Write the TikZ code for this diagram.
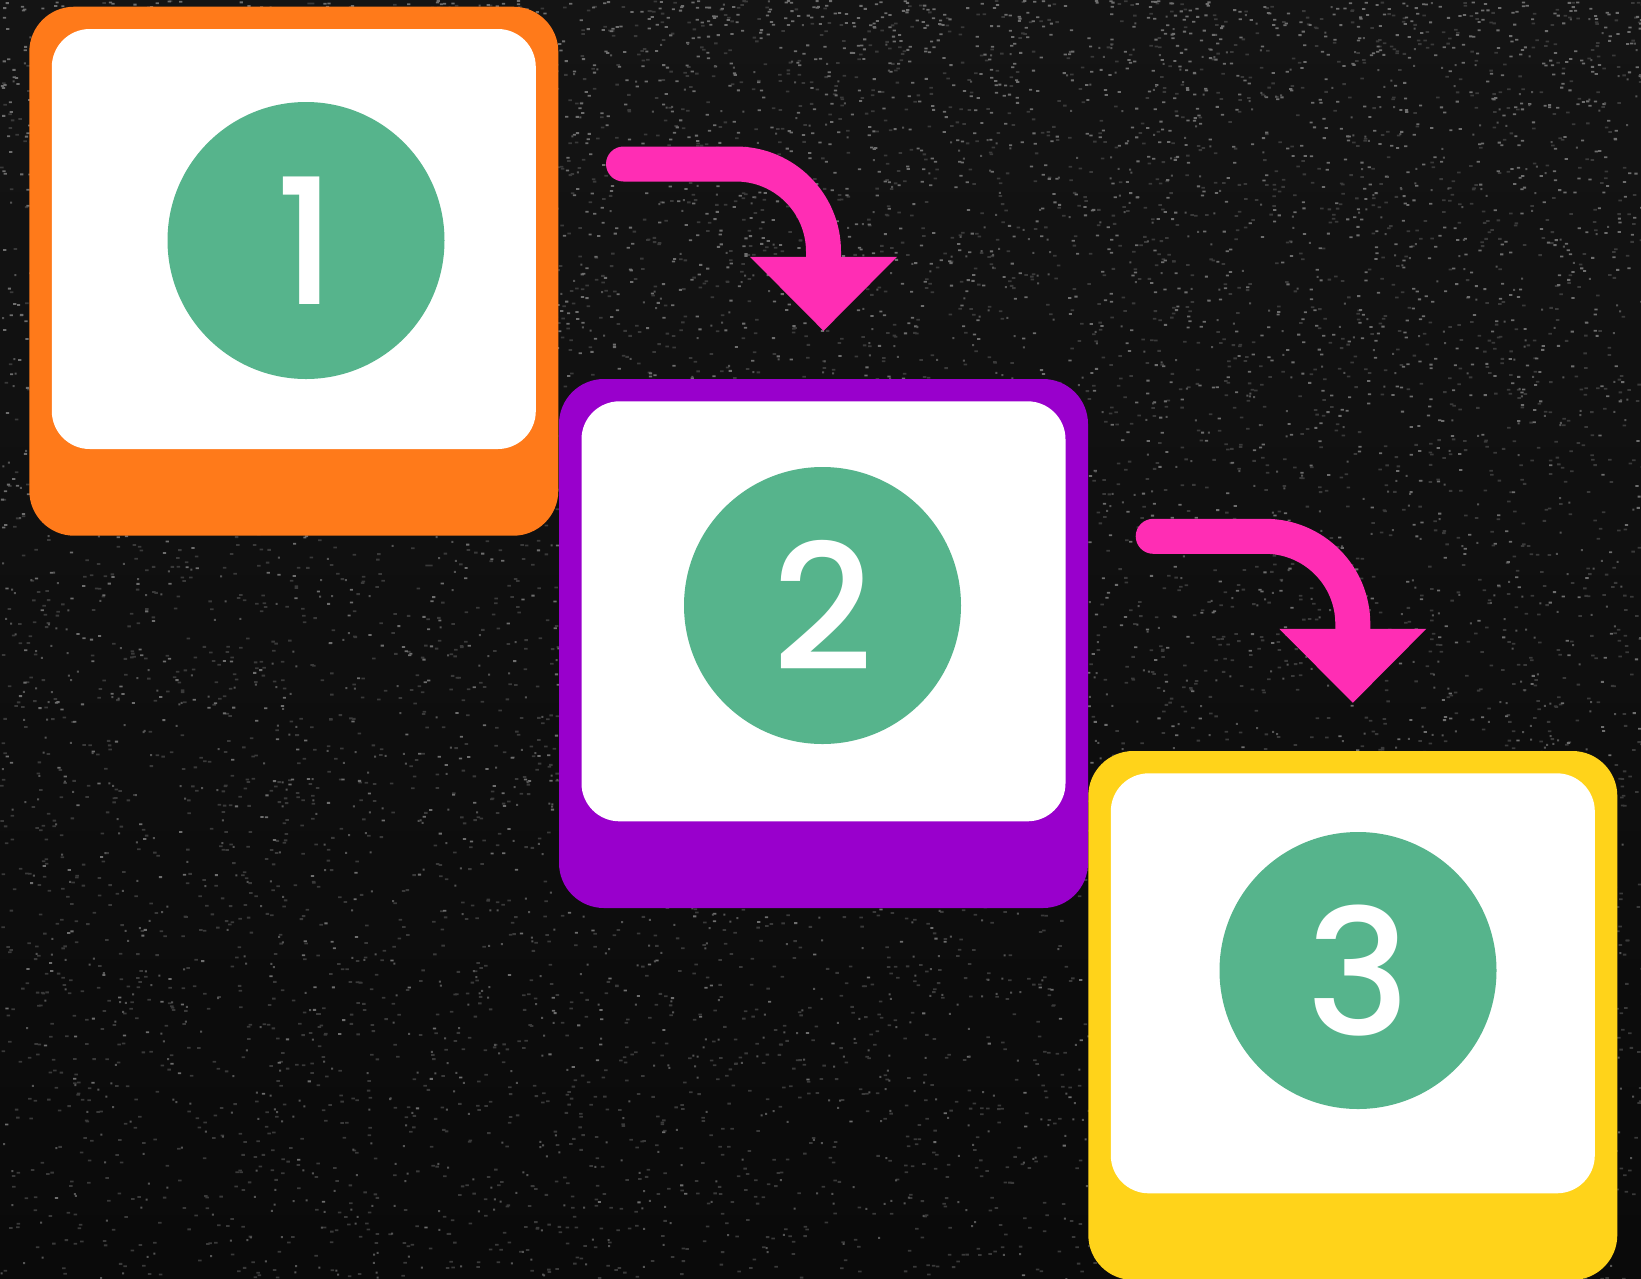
\documentclass[tikz,border=0pt]{standalone}
\usepackage{fontspec}
\newfontfamily\digitfont{Poppins Medium}
\usetikzlibrary{calc}
\definecolor{bgtop}{HTML}{141414}
\definecolor{bgbot}{HTML}{0A0A0A}
\definecolor{speckA}{HTML}{3A3A3A}
\definecolor{speckB}{HTML}{6E6E6E}
\definecolor{speckC}{HTML}{555555}
\definecolor{orangec}{HTML}{FF7A1A}
\definecolor{purplec}{HTML}{9900CC}
\definecolor{yellowc}{HTML}{FFD31A}
\definecolor{greenc}{HTML}{56B48C}
\definecolor{pinkc}{HTML}{FF2DB4}
\tikzset{
  card/.style={rectangle, rounded corners=45pt, minimum width=529pt, minimum height=529pt, inner sep=0pt, draw=none},
  panel/.style={rectangle, rounded corners=38pt, fill=white, minimum width=484pt, minimum height=420pt, inner sep=0pt, draw=none},
  badge/.style={circle, fill=greenc, minimum size=277pt, inner sep=0pt, draw=none, text=white, font=\digitfont\fontsize{175}{175}\selectfont},
  flow/.style={draw=pinkc, line width=35pt, line cap=round, rounded corners=87.5pt},
  flowhead/.style={fill=pinkc, draw=none},
}
\begin{document}
\begin{tikzpicture}[x=1pt,y=-1pt]
\shade[top color=bgtop, bottom color=bgbot] (0,0) rectangle (1641,1278);
\useasboundingbox (0,0) rectangle (1641,1278);
% speckled background texture
\pgfmathsetseed{7}
\foreach \j in {1,...,30} {
  \fill[speckA] \foreach \i in {1,...,200} { (rnd*1641, rnd*1278) rectangle ++(3.5,1.8) };
}
\foreach \j in {1,...,15} {
  \fill[speckB] \foreach \i in {1,...,200} { (rnd*1641, rnd*rnd*1278) rectangle ++(3.2,1.8) };
}
\foreach \j in {1,...,10} {
  \fill[speckC] \foreach \i in {1,...,200} { (rnd*1641, rnd*1278) rectangle ++(2,2) };
}
% cards
\node[card, fill=orangec] (b1) at (293.8,271.2) {};
\node[panel] (p1) at ($(b1.north)+(0,232.5)$) {};
\node[badge] (c1) at (306,240.5) {1};
\node[card, fill=purplec] (b2) at (823.5,643.5) {};
\node[panel] (p2) at ($(b2.north)+(0,232.5)$) {};
\node[badge] (c2) at (822.5,605.5) {2};
\node[card, fill=yellowc] (b3) at (1352.8,1015.5) {};
\node[panel] (p3) at ($(b3.north)+(0,232.5)$) {};
\node[badge] (c3) at (1358,970.5) {3};
% arrows
\coordinate (s1) at ($(b1.north east)+(65,157.5)$);
\coordinate (t1) at ($(b2.north)+(0,-48)$);
\draw[flow] (s1) -| ($(t1)+(0,-74)$);
\fill[flowhead] (t1) -- ++(-73.5,-74) -- ++(147,0) -- cycle;
\coordinate (s2) at ($(b2.north east)+(65,157.5)$);
\coordinate (t2) at ($(b3.north)+(0,-48)$);
\draw[flow] (s2) -| ($(t2)+(0,-74)$);
\fill[flowhead] (t2) -- ++(-73.5,-74) -- ++(147,0) -- cycle;
\end{tikzpicture}
\end{document}
